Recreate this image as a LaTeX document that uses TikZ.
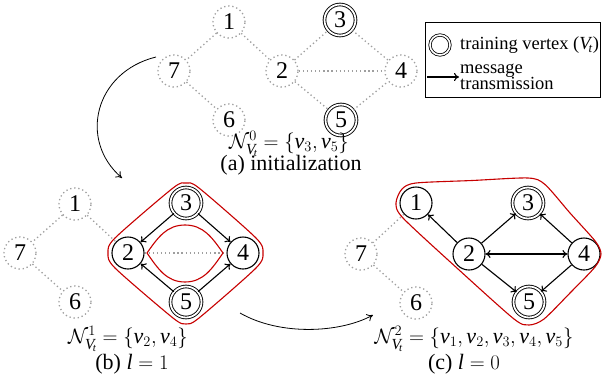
\documentclass[tikz,border=0pt]{standalone}
\usepackage{amsmath}
\usepackage{fontspec}
\setmainfont{Liberation Serif}
\usetikzlibrary{arrows.meta}
\newcommand{\nodefont}{\fontsize{24}{28}\selectfont}
\newcommand{\capfont}{\fontsize{22}{26}\selectfont}
\newcommand{\legfont}{\fontsize{18.5}{20}\selectfont}
\newcommand{\mi}[1]{\textit{#1}}
\newcommand{\Vt}{\mi{V}_{\!\mi{t}}}
\tikzset{
  v/.style={circle, minimum size=32pt, inner sep=0pt, font=\nodefont},
  dv/.style={v, draw=gray!75, line width=1.3pt, dash pattern=on 1.3pt off 2.8pt},
  sv/.style={v, draw, line width=1.1pt},
  tv/.style={v, draw, double, double distance=1.8pt, line width=0.9pt, minimum size=31pt},
  de/.style={gray!75, line width=1.3pt, dash pattern=on 1.3pt off 2.8pt},
  ar/.style={-{To[length=5pt,width=8pt]}, line width=1.1pt},
  dar/.style={{To[length=5pt,width=8pt]}-{To[length=5pt,width=8pt]}, line width=1.1pt},
  cur/.style={-{To[length=6pt,width=8pt]}, line width=0.8pt},
  hull/.style={draw=red!78!black, line width=1.1pt},
  captxt/.style={font=\capfont, inner sep=0pt},
}
\begin{document}
\begin{tikzpicture}[x=1pt,y=-1pt]
\useasboundingbox (0,0) rectangle (602,381);

% ---------- (a) initialization ----------
\node[dv] (a1) at (229,22) {1};
\node[dv] (a7) at (174,71) {7};
\node[dv] (a2) at (282,71) {2};
\node[tv] (a3) at (340,20) {3};
\node[dv] (a4) at (401,71) {4};
\node[tv] (a5) at (341,120) {5};
\node[dv] (a6) at (229,120) {6};
\draw[de] (a1) -- (a7);
\draw[de] (a1) -- (a2);
\draw[de] (a7) -- (a6);
\draw[de] (a2) -- (a3);
\draw[de] (a2) -- (a4);
\draw[de] (a2) -- (a5);
\draw[de] (a3) -- (a4);
\draw[de] (a5) -- (a4);
\node[captxt] (la) at (289,144) {$\mathcal{N}^{0}_{\Vt}=\{\mi{v}_3,\mi{v}_5\}$};
\node[captxt] (ca) at (291,165) {(a) initialization};

% ---------- legend ----------
\node[draw, line width=0.8pt, minimum width=175pt, minimum height=75pt, inner sep=0pt] (leg) at (512.5,59.5) {};
\node[tv, minimum size=20pt, line width=0.8pt, double distance=1.6pt] (legv) at (440,45) {};
\node[font=\legfont, anchor=west, inner sep=0pt] (legt) at (460,45) {training vertex ($\Vt$)};
\coordinate (lega) at (427,77);
\coordinate (legb) at (459,77);
\draw[-{To[length=5pt,width=8pt]}, line width=1.1pt] (lega) -- (legb);
\node[font=\legfont, anchor=west, inner sep=0pt, align=left] (legm) at (460,77) {message\\[-4pt]transmission};

% ---------- (b) l = 1 ----------
\node[dv] (b1) at (75,204) {1};
\node[dv] (b7) at (20,253) {7};
\node[dv] (b6) at (75,302) {6};
\node[sv] (b2) at (128,253) {2};
\node[tv] (b3) at (186,203) {3};
\node[sv] (b4) at (243,253) {4};
\node[tv] (b5) at (186,302) {5};
\draw[de] (b1) -- (b7);
\draw[de] (b7) -- (b6);
\draw[de] (b1) -- (b2);
\draw[de] (b2) -- (b4);
\draw[ar] (b3) -- (b2);
\draw[ar] (b3) -- (b4);
\draw[ar] (b5) -- (b2);
\draw[ar] (b5) -- (b4);
\draw[hull] plot[smooth cycle, tension=0.45] coordinates {
  (108,253) (115,238) (173,188) (186,183) (199,188) (256,238) (263,253)
  (256,268) (199,318) (186,324) (173,318) (115,268)};
\draw[hull] (147,253) to[out=55,in=180] (185,225) to[out=0,in=125] (223,253)
  to[out=-125,in=0] (185,282) to[out=180,in=-55] cycle;
\node[captxt] (lb) at (128,339) {$\mathcal{N}^{1}_{\Vt}=\{\mi{v}_2,\mi{v}_4\}$};
\node[captxt] (cb) at (132,364) {(b) $\mi{l}=1$};

% ---------- (c) l = 0 ----------
\node[sv] (c1) at (416,203) {1};
\node[tv] (c3) at (528,203) {3};
\node[sv] (c2) at (469,254) {2};
\node[sv] (c4) at (584,254) {4};
\node[tv] (c5) at (529,302) {5};
\node[dv] (c7) at (361,254) {7};
\node[dv] (c6) at (416,303) {6};
\draw[de] (c1) -- (c7);
\draw[de] (c7) -- (c6);
\draw[ar] (c2) -- (c1);
\draw[ar] (c2) -- (c3);
\draw[dar] (c2) -- (c4);
\draw[ar] (c2) -- (c5);
\draw[ar] (c4) -- (c3);
\draw[ar] (c4) -- (c5);
\draw[hull] plot[smooth cycle, tension=0.45] coordinates {
  (416,183) (472,180.5) (528,178) (545,184.5) (570,213) (595.5,241.5) (601,254)
  (595,267) (570,293) (544,319) (529,325) (514,319) (458,269) (403,218)
  (396,203) (402,189)};
\node[captxt] (lc) at (474,339) {$\mathcal{N}^{2}_{\Vt}=\{\mi{v}_1,\mi{v}_2,\mi{v}_3,\mi{v}_4,\mi{v}_5\}$};
\node[captxt] (cc) at (464,364) {(c) $\mi{l}=0$};

% ---------- transition arrows ----------
\coordinate (s1) at (156,57);
\coordinate (e1) at (122,178);
\draw[cur] (s1) .. controls (95,72) and (78,140) .. (e1);
\coordinate (s2) at (240,313);
\coordinate (e2) at (373,315);
\draw[cur] (s2) .. controls (280,336) and (340,333) .. (e2);
\end{tikzpicture}
\end{document}
